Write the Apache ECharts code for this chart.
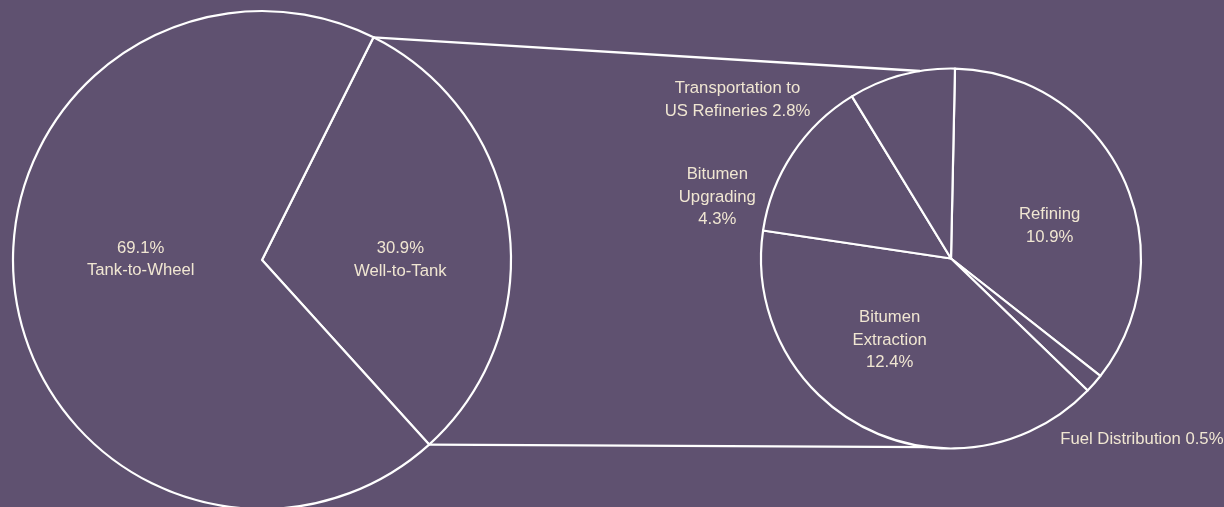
<!DOCTYPE html>
<html>
<head>
<meta charset="utf-8">
<script src="https://cdn.jsdelivr.net/npm/echarts@6/dist/echarts.min.js"></script>
<style>
  html, body { margin: 0; padding: 0; background: #5f5170; }
  #chart { width: 1224px; height: 507px; }
</style>
</head>
<body>
<div id="chart"></div>
<script>
// Share of total life-cycle emissions (%)
const totalNames = ['Well-to-Tank', 'Tank-to-Wheel'];
const totalValues = [30.9, 69.1];

// Breakdown of the Well-to-Tank share (% of total)
const stageNames = ['Refining', 'Fuel Distribution', 'Bitumen Extraction', 'Bitumen Upgrading', 'Transportation to US Refineries'];
const stageValues = [10.9, 0.5, 12.4, 4.3, 2.8];
const stageLabelText = ['Refining\n{v}', 'Fuel Distribution {v}', 'Bitumen\nExtraction\n{v}', 'Bitumen\nUpgrading\n{v}', 'Transportation to\nUS Refineries {v}'];

// Styling and layout
const BG = '#5f5170';
const INK = '#f0e6d2';
const STROKE = '#ffffff';
const FONT = "'Liberation Sans Narrow', 'Arial Narrow', 'Liberation Sans', sans-serif";
const FONT_SIZE = 16.7;

// start: degrees clockwise from 12 o'clock
const mainPie = { cx: 262, cy: 260, r: 249, start: 26.6 };
const detailPie = { cx: 951, cy: 258.5, r: 190, start: 1.2 };
// where the zoom connectors meet the detail pie (degrees clockwise from 12 o'clock)
const connectorEnds = [-9.4, 187];

// label nudges from the default inside position
const totalLabelShift = [[12, 17], [5, -18]];
const stageLabelShift = [[10, 9.5], [117, 116], [-18, -6], [-152, -7], [-188, -64]];

function polar(p, deg) {
  const a = deg * Math.PI / 180;
  return [p.cx + p.r * Math.sin(a), p.cy - p.r * Math.cos(a)];
}

const totalSum = totalValues.reduce((a, b) => a + b, 0);
const wttEnd = mainPie.start + 360 * totalValues[0] / totalSum;

const chart = echarts.init(document.getElementById('chart'), null, { renderer: 'canvas' });

const labelBase = {
  show: true,
  position: 'inside',
  color: INK,
  fontFamily: FONT,
  fontSize: FONT_SIZE,
  lineHeight: 22.5,
  align: 'center'
};

chart.setOption({
  backgroundColor: BG,
  animation: false,
  graphic: [
    {
      type: 'line', z: 10, silent: true,
      shape: {
        x1: polar(mainPie, mainPie.start)[0], y1: polar(mainPie, mainPie.start)[1],
        x2: polar(detailPie, connectorEnds[0])[0], y2: polar(detailPie, connectorEnds[0])[1]
      },
      style: { stroke: STROKE, lineWidth: 2.4 }
    },
    {
      type: 'line', z: 10, silent: true,
      shape: {
        x1: polar(mainPie, wttEnd)[0], y1: polar(mainPie, wttEnd)[1],
        x2: polar(detailPie, connectorEnds[1])[0], y2: polar(detailPie, connectorEnds[1])[1]
      },
      style: { stroke: STROKE, lineWidth: 2.4 }
    }
  ],
  series: [
    {
      type: 'pie',
      center: [mainPie.cx, mainPie.cy],
      radius: mainPie.r,
      startAngle: 90 - mainPie.start,
      clockwise: true,
      avoidLabelOverlap: false,
      silent: true,
      emphasis: { disabled: true },
      itemStyle: { color: BG, borderColor: STROKE, borderWidth: 2.2 },
      label: Object.assign({}, labelBase, {
        formatter: p => p.value.toFixed(1) + '%\n' + p.name
      }),
      labelLine: { show: false },
      labelLayout: p => ({ dx: totalLabelShift[p.dataIndex][0], dy: totalLabelShift[p.dataIndex][1] }),
      data: totalNames.map((n, i) => ({ name: n, value: totalValues[i] }))
    },
    {
      type: 'pie',
      center: [detailPie.cx, detailPie.cy],
      radius: detailPie.r,
      startAngle: 90 - detailPie.start,
      clockwise: true,
      avoidLabelOverlap: false,
      silent: true,
      emphasis: { disabled: true },
      itemStyle: { color: BG, borderColor: STROKE, borderWidth: 2.2 },
      label: Object.assign({}, labelBase, {
        formatter: p => stageLabelText[p.dataIndex].replace('{v}', p.value.toFixed(1) + '%')
      }),
      labelLine: { show: false },
      labelLayout: p => ({ dx: stageLabelShift[p.dataIndex][0], dy: stageLabelShift[p.dataIndex][1] }),
      data: stageNames.map((n, i) => ({ name: n, value: stageValues[i] }))
    }
  ]
});
</script>
</body>
</html>
